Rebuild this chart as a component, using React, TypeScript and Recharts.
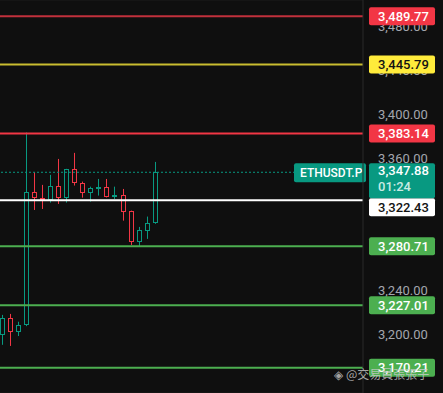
import { ComposedChart, Bar, XAxis, YAxis, CartesianGrid, ReferenceLine } from "recharts";

// 1-bar candles, oldest first
const opens = [3200, 3215.2, 3203, 3209, 3329.7, 3324.3, 3322.7, 3335.2, 3324.8, 3350.6, 3337.9, 3328.9, 3333.3, 3334.3, 3326, 3327, 3312.7, 3284.8, 3294.8, 3301.5];
const highs = [3218.2, 3219.1, 3212, 3384, 3347.9, 3336.4, 3345.5, 3360, 3351, 3365.5, 3339.4, 3334.8, 3341.8, 3341.8, 3334.8, 3332.7, 3313, 3298.2, 3307.6, 3357.3];
const lows = [3191, 3190, 3199, 3208, 3313.6, 3314.5, 3320.3, 3319.1, 3320.3, 3335.8, 3324.8, 3321.2, 3326.7, 3325, 3323.6, 3303.9, 3281.8, 3280.3, 3287.3, 3301];
const closes = [3215.2, 3203, 3209.1, 3329.7, 3324.3, 3323.1, 3335.2, 3324.8, 3350.6, 3337.9, 3328.9, 3333.3, 3334.5, 3325.7, 3327.5, 3312.1, 3284.8, 3295.2, 3301.5, 3347.9];

const yTicks = [3160, 3200, 3240, 3280, 3320, 3360, 3400, 3440, 3480];
// price labels that stay readable on the axis (the rest sit fully under level tags)
const labelTicks = [3200, 3240, 3360, 3400, 3440, 3480];

// horizontal levels drawn on the chart
const levelPrices = [3489.77, 3445.79, 3383.14, 3322.43, 3280.71, 3227.01, 3170.21];
const currentPrice = 3347.88;
const countdown = "01:24";
const symbol = "ETHUSDT.P";
const watermark = "@交易員張張子";

const BG = "#0f0f0f";
const GREEN = "#089981";
const RED = "#f23645";
const FONT = "Roboto, 'Liberation Sans', sans-serif";
const W = 443;
const H = 393;
const AXIS_W = 80;

// style per level, same order as levelPrices
const levelStyles = [
  { line: "#c2313c", width: 2, box: RED, text: "#ffffff", shift: 0 },
  { line: "#cabd30", width: 2, box: "#ffeb3b", text: "#131313", shift: 0 },
  { line: RED, width: 2, box: RED, text: "#ffffff", shift: 0 },
  { line: "#ffffff", width: 2, box: "#ffffff", text: "#131313", shift: 7 },
  { line: "#4caf50", width: 2, box: "#4caf50", text: "#ffffff", shift: 0 },
  { line: "#4caf50", width: 2, box: "#4caf50", text: "#ffffff", shift: 0 },
  { line: "#4caf50", width: 2, box: "#4caf50", text: "#ffffff", shift: 0 },
];

const candles = opens.map((open, i) => ({
  i,
  open,
  high: highs[i],
  low: lows[i],
  close: closes[i],
}));

const fmt = (v: number) =>
  v.toLocaleString("en-US", { minimumFractionDigits: 2, maximumFractionDigits: 2 });

const Candle = (props: any) => {
  const { x, y, width, height, payload } = props;
  const { open, close, high, low } = payload;
  const top = Math.min(y, y + height);
  const h = Math.abs(height);
  const color = close >= open ? GREEN : RED;
  const toY = (v: number) => top + ((high - v) / (high - low)) * h;
  const cx = Math.round(x + width / 2) + 0.5;
  const bTop = Math.round(toY(Math.max(open, close)));
  const bBot = Math.round(toY(Math.min(open, close)));
  return (
    <g>
      <line x1={cx} x2={cx} y1={top} y2={top + h} stroke={color} strokeWidth={1} />
      <rect
        x={cx - 2}
        y={bTop + 0.5}
        width={4}
        height={Math.max(bBot - bTop - 1, 1)}
        fill={BG}
        stroke={color}
        strokeWidth={1}
      />
    </g>
  );
};

// axis price text, drawn as a reference-line label so the level tags cover it
const tickLabel = (value: number) => (props: any) => {
  const { viewBox } = props;
  return (
    <text
      x={viewBox.x + viewBox.width + 15}
      y={viewBox.y + 4.5}
      fill="#a3a6ad"
      fontSize={13}
      fontFamily={FONT}
    >
      {fmt(value)}
    </text>
  );
};

const priceTag = (price: number, s: (typeof levelStyles)[number]) => (props: any) => {
  const { viewBox } = props;
  const left = viewBox.x + viewBox.width + 6;
  const mid = viewBox.y + s.shift;
  return (
    <g>
      <rect x={left} y={mid - 9} width={66} height={18} rx={2} fill={s.box} />
      <text x={left + 9} y={mid + 4.5} fill={s.text} fontSize={13} fontWeight={500} fontFamily={FONT}>
        {fmt(price)}
      </text>
    </g>
  );
};

const currentTag = (props: any) => {
  const { viewBox } = props;
  const right = viewBox.x + viewBox.width;
  const y = viewBox.y;
  return (
    <g>
      <rect x={right - 69} y={y - 9} width={72} height={19} rx={2} fill={GREEN} />
      <text x={right - 63} y={y + 4.5} fill="#ffffff" fontSize={12} fontWeight={500} fontFamily={FONT}>
        {symbol}
      </text>
      <rect x={right + 6} y={y - 9} width={66} height={35} rx={2} fill={GREEN} />
      <text x={right + 15} y={y + 3} fill="#ffffff" fontSize={13} fontWeight={500} fontFamily={FONT}>
        {fmt(currentPrice)}
      </text>
      <text x={right + 15} y={y + 19} fill="#c8ebe4" fontSize={13} fontWeight={500} fontFamily={FONT}>
        {countdown}
      </text>
    </g>
  );
};

export default function App() {
  return (
    <div style={{ position: "fixed", left: 0, top: 0, width: W, height: H, background: BG }}>
      <ComposedChart width={W} height={H} data={candles} margin={{ top: 0, right: 0, left: 0, bottom: 0 }}>
        <CartesianGrid horizontal vertical={false} stroke="#1d1d1d" />
        <XAxis type="number" dataKey="i" domain={[-0.16, 44.93]} hide allowDataOverflow />
        <YAxis
          orientation="right"
          width={AXIS_W}
          domain={[3147.2, 3504.5]}
          ticks={yTicks}
          allowDataOverflow
          axisLine={{ stroke: "#2a2a2a" }}
          tickLine={false}
          tick={false}
        />
        <Bar
          dataKey={(d: any) => [d.low, d.high]}
          barSize={5}
          shape={<Candle />}
          isAnimationActive={false}
        />
        {labelTicks.map((t) => (
          <ReferenceLine key={`t${t}`} y={t} stroke="none" label={tickLabel(t)} />
        ))}
        {levelPrices.map((p, k) => (
          <ReferenceLine
            key={p}
            y={p}
            stroke={levelStyles[k].line}
            strokeWidth={levelStyles[k].width}
            label={priceTag(p, levelStyles[k])}
          />
        ))}
        <ReferenceLine
          y={currentPrice}
          stroke={GREEN}
          strokeWidth={1}
          strokeDasharray="2 2"
          label={currentTag}
        />
      </ComposedChart>
      <div
        style={{
          position: "absolute",
          zIndex: 10,
          left: 334,
          top: 367,
          fontSize: 12,
          color: "rgba(205,205,205,0.8)",
          fontFamily: "'Noto Sans CJK TC', sans-serif",
          whiteSpace: "nowrap",
          lineHeight: "14px",
        }}
      >
        <span style={{ marginRight: 3 }}>◈</span>
        {watermark}
      </div>
    </div>
  );
}
